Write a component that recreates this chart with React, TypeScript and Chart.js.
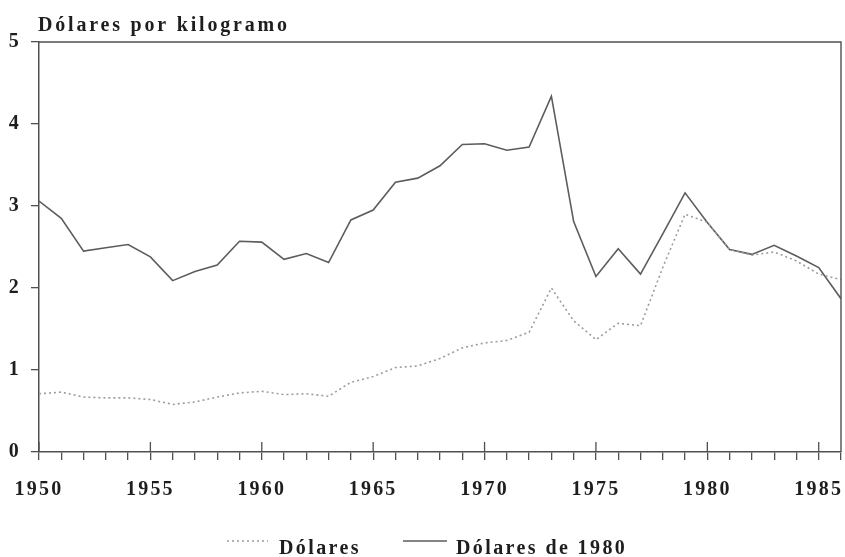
import React, { useEffect, useRef } from 'react';
import { Chart, registerables } from 'chart.js';

Chart.register(...registerables);

const years = [
  1950, 1951, 1952, 1953, 1954, 1955, 1956, 1957, 1958, 1959,
  1960, 1961, 1962, 1963, 1964, 1965, 1966, 1967, 1968, 1969,
  1970, 1971, 1972, 1973, 1974, 1975, 1976, 1977, 1978, 1979,
  1980, 1981, 1982, 1983, 1984, 1985, 1986,
];

const dolares = [
  0.71, 0.73, 0.67, 0.66, 0.66, 0.64, 0.58, 0.61, 0.67, 0.72,
  0.74, 0.70, 0.71, 0.68, 0.85, 0.92, 1.03, 1.05, 1.14, 1.27,
  1.33, 1.36, 1.46, 2.00, 1.60, 1.37, 1.57, 1.54, 2.25, 2.90,
  2.80, 2.47, 2.40, 2.44, 2.33, 2.17, 2.10,
];

const dolares1980 = [
  3.06, 2.85, 2.45, 2.49, 2.53, 2.38, 2.09, 2.20, 2.28, 2.57,
  2.56, 2.35, 2.42, 2.31, 2.83, 2.95, 3.29, 3.34, 3.49, 3.75,
  3.76, 3.68, 3.72, 4.34, 2.81, 2.14, 2.48, 2.17, 2.66, 3.16,
  2.80, 2.47, 2.41, 2.52, 2.39, 2.25, 1.87,
];

const xLabelYears = [1950, 1955, 1960, 1965, 1970, 1975, 1980, 1985];
const yMin = 0;
const yMax = 5;
const xMin = 1950;
const xMax = 1986;

const titleText = 'Dólares por kilogramo';
const seriesLabels = ['Dólares', 'Dólares de 1980'];

const FONT_FAMILY = '"Liberation Serif", "Times New Roman", serif';
const TEXT_COLOR = '#1e1e1e';
const AXIS_COLOR = '#505050';
const SOLID_COLOR = '#5c5c5c';
const DOT_COLOR = '#9c9c9c';

export default function App() {
  const ref = useRef<HTMLCanvasElement>(null);

  useEffect(() => {
    if (!ref.current) return;

    const decor = {
      id: 'decor',
      beforeDraw(chart: any) {
        chart.ctx.letterSpacing = '2.2px';
      },
      afterDraw(chart: any) {
        const { ctx, chartArea: a, scales } = chart;
        ctx.save();
        // frame top and right
        ctx.strokeStyle = AXIS_COLOR;
        ctx.lineWidth = 1.4;
        ctx.beginPath();
        ctx.moveTo(a.left, a.top);
        ctx.lineTo(a.right, a.top);
        ctx.lineTo(a.right, a.bottom);
        ctx.stroke();
        // upward major ticks
        ctx.lineWidth = 1.3;
        ctx.beginPath();
        for (const yr of xLabelYears) {
          const x = scales.x.getPixelForValue(yr);
          ctx.moveTo(x, a.bottom);
          ctx.lineTo(x, a.bottom - 10);
        }
        ctx.stroke();

        // title
        ctx.font = `bold 20px ${FONT_FAMILY}`;
        ctx.fillStyle = TEXT_COLOR;
        ctx.textAlign = 'left';
        ctx.textBaseline = 'alphabetic';
        ctx.letterSpacing = '2.8px';
        ctx.fillText(titleText, 38, 31);

        // legend
        ctx.letterSpacing = '2.4px';
        const ly = 541;
        ctx.lineWidth = 1.5;
        ctx.strokeStyle = DOT_COLOR;
        ctx.setLineDash([2, 3]);
        ctx.beginPath();
        ctx.moveTo(227, ly);
        ctx.lineTo(268, ly);
        ctx.stroke();
        ctx.setLineDash([]);
        ctx.strokeStyle = SOLID_COLOR;
        ctx.beginPath();
        ctx.moveTo(403, ly);
        ctx.lineTo(447, ly);
        ctx.stroke();
        ctx.fillText(seriesLabels[0], 279, 554);
        ctx.fillText(seriesLabels[1], 456, 554);
        ctx.restore();
        ctx.letterSpacing = '0px';
      },
    };

    const chart = new Chart(ref.current, {
      type: 'line',
      data: {
        datasets: [
          {
            label: seriesLabels[0],
            data: years.map((yr, i) => ({ x: yr, y: dolares[i] })),
            borderColor: DOT_COLOR,
            borderWidth: 1.6,
            borderDash: [2, 3],
            pointRadius: 0,
            tension: 0,
            fill: false,
          },
          {
            label: seriesLabels[1],
            data: years.map((yr, i) => ({ x: yr, y: dolares1980[i] })),
            borderColor: SOLID_COLOR,
            borderWidth: 1.6,
            pointRadius: 0,
            tension: 0,
            fill: false,
          },
        ],
      },
      options: {
        animation: false,
        responsive: false,
        devicePixelRatio: 1,
        layout: { padding: { top: 42, right: 4, left: 0, bottom: 0 } },
        plugins: {
          legend: { display: false },
          title: { display: false },
          tooltip: { enabled: false },
        },
        scales: {
          x: {
            type: 'linear',
            min: xMin,
            max: xMax,
            afterFit: (s: any) => {
              s.height = 105;
              s.paddingLeft = 0;
              s.paddingRight = 0;
            },
            ticks: {
              stepSize: 1,
              autoSkip: false,
              maxRotation: 0,
              padding: 18,
              color: TEXT_COLOR,
              font: { family: FONT_FAMILY, size: 20, weight: 'bold' },
              callback: (v: any) => (xLabelYears.includes(Number(v)) ? String(v) : ''),
            },
            grid: {
              drawOnChartArea: false,
              drawTicks: true,
              tickLength: 8,
              color: AXIS_COLOR,
              lineWidth: 1.3,
            },
            border: { display: true, color: AXIS_COLOR, width: 1.5 },
          },
          y: {
            type: 'linear',
            min: yMin,
            max: yMax,
            afterFit: (s: any) => {
              s.width = 39;
              s.paddingTop = 0;
              s.paddingBottom = 0;
            },
            ticks: {
              stepSize: 1,
              padding: 10,
              color: TEXT_COLOR,
              font: { family: FONT_FAMILY, size: 20, weight: 'bold' },
            },
            grid: {
              drawOnChartArea: false,
              drawTicks: true,
              tickLength: 8,
              color: AXIS_COLOR,
              lineWidth: 1.3,
            },
            border: { display: true, color: AXIS_COLOR, width: 1.5 },
          },
        },
      },
      plugins: [decor],
    });

    return () => chart.destroy();
  }, []);

  return (
    <canvas
      ref={ref}
      width={845}
      height={557}
      style={{ position: 'absolute', left: 0, top: 0, width: 845, height: 557, background: '#fff' }}
    />
  );
}
